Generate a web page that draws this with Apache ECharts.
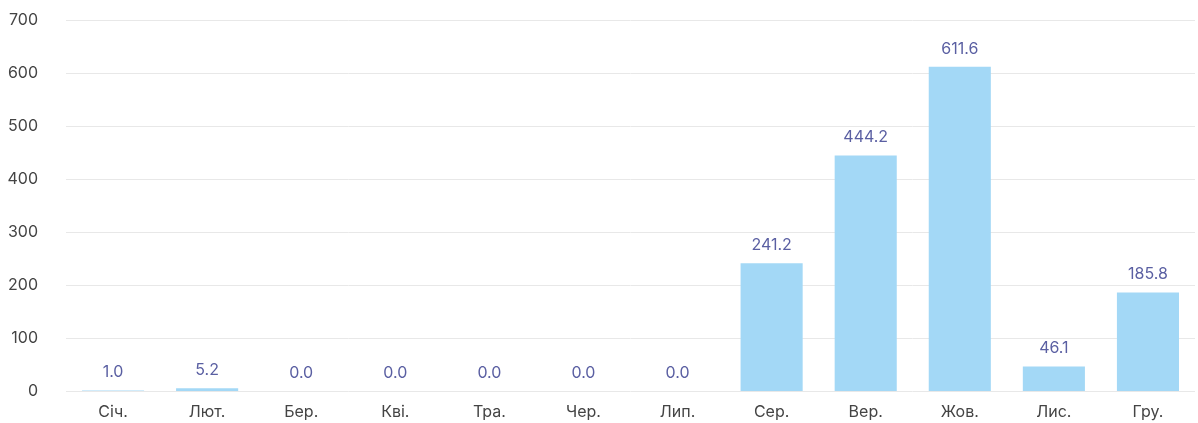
<!DOCTYPE html>
<html><head><meta charset="utf-8">
<script src="https://cdn.jsdelivr.net/npm/echarts@6/dist/echarts.min.js"></script>
<style>html,body{margin:0;padding:0;background:#fff}#c{width:1198px;height:423px}</style>
</head><body><div id="c"></div>
<script>
const categories = ['Січ.','Лют.','Бер.','Кві.','Тра.','Чер.','Лип.','Сер.','Вер.','Жов.','Лис.','Гру.'];
const values = [1.0, 5.2, 0.0, 0.0, 0.0, 0.0, 0.0, 241.2, 444.2, 611.6, 46.1, 185.8];
const yTicks = [0, 100, 200, 300, 400, 500, 600, 700];
const chart = echarts.init(document.getElementById('c'));
chart.setOption({
  animation: false,
  textStyle: {fontFamily: 'Inter'},
  grid: {left: 66, right: 3, top: 20, bottom: 32, containLabel: false},
  xAxis: {type: 'category', data: categories,
    axisLine: {show: false}, axisTick: {show: false},
    axisLabel: {color: '#444', fontSize: 16, margin: 13, fontFamily: 'Inter'}},
  yAxis: {type: 'value', min: yTicks[0], max: yTicks[yTicks.length-1], interval: 100,
    axisLine: {show: false}, axisTick: {show: false},
    splitLine: {lineStyle: {color: '#e8e8e8'}},
    axisLabel: {color: '#444', fontSize: 16, margin: 28, fontFamily: 'Inter'}},
  series: [{type: 'bar', data: values, barWidth: '66%',
    itemStyle: {color: '#a3d8f6'},
    label: {show: true, position: 'top', distance: 10, color: '#5a5fa2', fontSize: 16,
      fontFamily: 'Inter', formatter: p => p.value.toFixed(1)}}]
});
</script></body></html>
